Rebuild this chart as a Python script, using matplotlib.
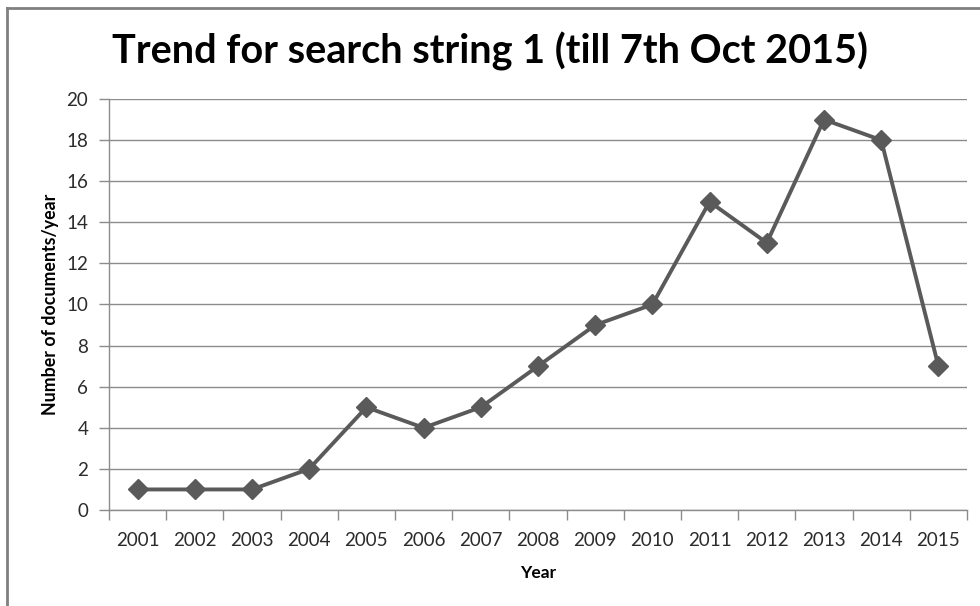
import matplotlib.pyplot as plt
import matplotlib.ticker as ticker
from matplotlib.lines import Line2D

# Documents per year for search string 1
years = ["2001", "2002", "2003", "2004", "2005", "2006", "2007", "2008",
         "2009", "2010", "2011", "2012", "2013", "2014", "2015"]
documents = [1, 1, 1, 2, 5, 4, 5, 7, 9, 10, 15, 13, 19, 18, 7]

plt.rcParams["font.family"] = ["Lato", "DejaVu Sans"]

fig = plt.figure(figsize=(9.8, 6.06), dpi=100)
ax = fig.add_axes([109 / 980, 96 / 606, 858 / 980, 411 / 606])

x = list(range(len(years)))
ax.plot(x, documents, color="#5a5a5a", linewidth=2.8, marker="D",
        markersize=10, markerfacecolor="#5a5a5a", markeredgecolor="#5a5a5a")

ax.set_xlim(-0.5, len(years) - 0.5)
ax.set_ylim(0, 20)
ax.set_yticks(range(0, 21, 2))
ax.yaxis.grid(True, color="#8c8c8c", linewidth=1)
ax.set_axisbelow(True)

# Category ticks between years, labels centred on each year
ax.xaxis.set_major_locator(ticker.FixedLocator([i - 0.5 for i in range(len(years) + 1)]))
ax.xaxis.set_major_formatter(ticker.NullFormatter())
ax.xaxis.set_minor_locator(ticker.FixedLocator(x))
ax.xaxis.set_minor_formatter(ticker.FixedFormatter(years))
ax.tick_params(axis="x", which="major", length=7, color="#8c8c8c", width=1)
ax.tick_params(axis="x", which="minor", length=0, pad=16, labelsize=13.5, labelcolor="#2b2b2b")
ax.tick_params(axis="y", length=7, color="#8c8c8c", width=1, pad=8, labelsize=13.5, labelcolor="#2b2b2b")

for side in ["top", "right"]:
    ax.spines[side].set_visible(False)
for side in ["left", "bottom"]:
    ax.spines[side].set_color("#8c8c8c")
    ax.spines[side].set_linewidth(1)

ax.set_xlabel("Year", fontsize=12.5, fontweight="bold", labelpad=11)
ax.set_ylabel("Number of documents/year", fontsize=12.8, fontweight="bold", labelpad=5)
fig.text(0.5, 0.915, "Trend for search string 1 (till 7th Oct 2015)",
         ha="center", va="center", fontsize=28.5, fontweight="bold")

# Chart frame along the left and top edges
fig.add_artist(Line2D([7 / 980, 7 / 980], [0, 1 - 8 / 606], transform=fig.transFigure,
                      color="#808080", linewidth=2))
fig.add_artist(Line2D([7 / 980, 1], [1 - 8 / 606, 1 - 8 / 606], transform=fig.transFigure,
                      color="#808080", linewidth=2))

fig.savefig("out.png", dpi=100)
